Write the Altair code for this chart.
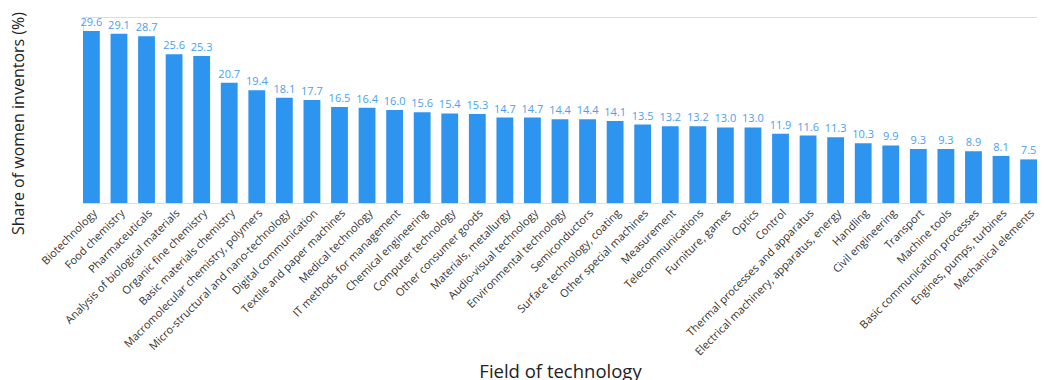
import altair as alt
import pandas as pd

fields = [
    "Biotechnology", "Food chemistry", "Pharmaceuticals", "Analysis of biological materials",
    "Organic fine chemistry", "Basic materials chemistry", "Macromolecular chemistry, polymers",
    "Micro-structural and nano-technology", "Digital communication", "Textile and paper machines",
    "Medical technology", "IT methods for management", "Chemical engineering", "Computer technology",
    "Other consumer goods", "Materials, metallurgy", "Audio-visual technology",
    "Environmental technology", "Semiconductors", "Surface technology, coating",
    "Other special machines", "Measurement", "Telecommunications", "Furniture, games", "Optics",
    "Control", "Thermal processes and apparatus", "Electrical machinery, apparatus, energy",
    "Handling", "Civil engineering", "Transport", "Machine tools",
    "Basic communication processes", "Engines, pumps, turbines", "Mechanical elements",
]
shares = [
    29.6, 29.1, 28.7, 25.6, 25.3, 20.7, 19.4, 18.1, 17.7, 16.5,
    16.4, 16.0, 15.6, 15.4, 15.3, 14.7, 14.7, 14.4, 14.4, 14.1,
    13.5, 13.2, 13.2, 13.0, 13.0, 11.9, 11.6, 11.3, 10.3, 9.9,
    9.3, 9.3, 8.9, 8.1, 7.5,
]

df = pd.DataFrame({"field": fields, "share": shares})
df["label"] = [f"{v:.1f}" for v in shares]

FONT = "Open Sans"

x = alt.X(
    "field:N",
    sort=None,
    scale=alt.Scale(paddingInner=0.39, paddingOuter=0.0),
    axis=alt.Axis(
        title="Field of technology",
        labelAngle=-45,
        labelFontSize=11,
        labelColor="#333333",
        labelFont=FONT,
        labelPadding=4,
        labelLimit=400,
        domain=False,
        ticks=False,
        titleFont=FONT,
        titleFontSize=18.5,
        titleFontWeight="normal",
        titleColor="#222222",
        titleY=174,
        titleBaseline="alphabetic",
    ),
)
y = alt.Y(
    "share:Q",
    scale=alt.Scale(domain=[0, 32], nice=False, zero=True),
    axis=alt.Axis(
        title="Share of women inventors (%)",
        labels=False,
        ticks=False,
        domain=False,
        grid=False,
        titleFont=FONT,
        titleFontSize=16,
        titleFontWeight="normal",
        titleColor="#222222",
        titleAngle=270,
        titleX=-60,
        titleY=106,
        titleAlign="center",
        titleBaseline="alphabetic",
    ),
)

bars = alt.Chart(df).mark_bar(color="#2d94f0").encode(x=x, y=y)
text = alt.Chart(df).mark_text(
    dy=-5, baseline="alphabetic", fontSize=11, font=FONT, color="#4a9ff0"
).encode(x=alt.X("field:N", sort=None), y="share:Q", text="label:N")

chart = (
    alt.layer(bars, text)
    .properties(
        width=954,
        height=186,
        autosize=alt.AutoSizeParams(type="none"),
        padding={"left": 75, "top": 9, "right": 0, "bottom": 177},
    )
    .configure_view(strokeWidth=0, stroke="transparent")
    .configure(background="white")
)

chart.save("out.html", embed_options={"renderer": "svg", "actions": False})
